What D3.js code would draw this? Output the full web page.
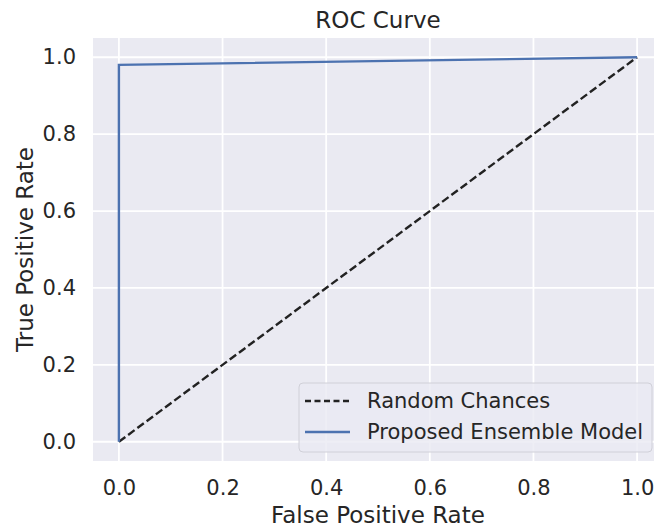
<!DOCTYPE html>
<html>
<head>
<meta charset="utf-8">
<script src="https://cdn.jsdelivr.net/npm/d3@7"></script>
<style>
  body { margin: 0; background: #fff; }
  text { font-family: "DejaVu Sans", sans-serif; fill: #262626; }
</style>
</head>
<body>
<div id="chart"></div>
<script>
// ROC data
var fpr = [0, 0, 1];
var tpr = [0, 0.98, 1];
var chanceX = [0, 1];
var chanceY = [0, 1];
var ticks = [0, 0.2, 0.4, 0.6, 0.8, 1.0];
var seriesNames = ["Random Chances", "Proposed Ensemble Model"];

var svgWidth = 654;
var svgHeight = 528;

// plot area (extends a little past the right edge)
var margin = { top: 38, left: 93 };
var plotWidth = 570;
var plotHeight = 423;

var svg = d3.select("#chart")
    .append("svg")
    .attr("width", svgWidth)
    .attr("height", svgHeight);

var chartGroup = svg.append("g")
    .attr("transform", `translate(${margin.left},${margin.top})`);

var xScale = d3.scaleLinear().domain([-0.05, 1.05]).range([0, plotWidth]);
var yScale = d3.scaleLinear().domain([-0.05, 1.05]).range([plotHeight, 0]);

// background
chartGroup.append("rect")
    .attr("width", plotWidth)
    .attr("height", plotHeight)
    .attr("fill", "#eaeaf2");

// grid lines
chartGroup.selectAll(".vgrid")
    .data(ticks).enter()
    .append("line")
    .attr("x1", d => xScale(d)).attr("x2", d => xScale(d))
    .attr("y1", 0).attr("y2", plotHeight)
    .attr("stroke", "#fff").attr("stroke-width", 1.8);

chartGroup.selectAll(".hgrid")
    .data(ticks).enter()
    .append("line")
    .attr("y1", d => yScale(d)).attr("y2", d => yScale(d))
    .attr("x1", 0).attr("x2", plotWidth)
    .attr("stroke", "#fff").attr("stroke-width", 1.8);

// axes (labels only, no domain lines)
var xAxis = d3.axisBottom(xScale).tickValues(ticks).tickFormat(d3.format(".1f")).tickSize(0).tickPadding(19);
var yAxis = d3.axisLeft(yScale).tickValues(ticks).tickFormat(d3.format(".1f")).tickSize(0).tickPadding(17);

var gx = chartGroup.append("g")
    .attr("transform", `translate(0,${plotHeight})`)
    .call(xAxis);
var gy = chartGroup.append("g").call(yAxis);
[gx, gy].forEach(function(g) {
    g.select(".domain").remove();
    g.selectAll("text")
        .style("font-family", "DejaVu Sans")
        .style("font-size", "21px")
        .attr("fill", "#3a3a3a");
});

// lines
var line = d3.line()
    .x(d => xScale(d[0]))
    .y(d => yScale(d[1]));

chartGroup.append("path")
    .datum(chanceX.map((v, i) => [v, chanceY[i]]))
    .attr("d", line)
    .attr("fill", "none")
    .attr("stroke", "#222")
    .attr("stroke-width", 2.4)
    .attr("stroke-dasharray", "8,3.5");

chartGroup.append("path")
    .datum(fpr.map((v, i) => [v, tpr[i]]))
    .attr("d", line)
    .attr("fill", "none")
    .attr("stroke", "#4c72b0")
    .attr("stroke-width", 2.4);

// legend
var legend = chartGroup.append("g")
    .attr("transform", `translate(${299 - margin.left},${383 - margin.top})`);

legend.append("rect")
    .attr("width", 353)
    .attr("height", 69)
    .attr("rx", 4)
    .attr("fill", "#eaeaf2")
    .attr("fill-opacity", 0.8)
    .attr("stroke", "#d0d0d8")
    .attr("stroke-width", 1);

var legendStyles = [
    { stroke: "#222", dash: "6,3.5" },
    { stroke: "#4c72b0", dash: null }
];

seriesNames.forEach(function(name, i) {
    var y = 18 + i * 31;
    legend.append("line")
        .attr("x1", 6).attr("x2", 51)
        .attr("y1", y).attr("y2", y)
        .attr("stroke", legendStyles[i].stroke)
        .attr("stroke-width", 2.4)
        .attr("stroke-dasharray", legendStyles[i].dash);
    legend.append("text")
        .attr("x", 68)
        .attr("y", y)
        .attr("dy", "0.35em")
        .style("font-size", "21px")
        .text(name);
});

// titles
svg.append("text")
    .attr("x", margin.left + xScale(0.5))
    .attr("y", 28)
    .attr("text-anchor", "middle")
    .style("font-size", "23px")
    .text("ROC Curve");

svg.append("text")
    .attr("x", margin.left + xScale(0.5))
    .attr("y", 523)
    .attr("text-anchor", "middle")
    .style("font-size", "23px")
    .text("False Positive Rate");

svg.append("text")
    .attr("transform", `translate(33,${margin.top + yScale(0.5)}) rotate(-90)`)
    .attr("text-anchor", "middle")
    .style("font-size", "23px")
    .text("True Positive Rate");
</script>
</body>
</html>
